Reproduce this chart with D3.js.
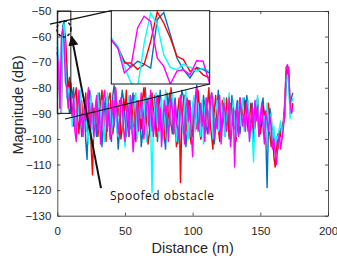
<!DOCTYPE html>
<html>
<head>
<meta charset="utf-8">
<script src="https://cdn.jsdelivr.net/npm/d3@7"></script>
<style>
  body { margin: 0; background: #fff; }
  svg { display: block; }
  .tick text { font-family: "Liberation Sans", Arial, sans-serif; font-size: 11.5px; fill: #262626; }
</style>
</head>
<body>
<svg id="chart" width="337" height="261"></svg>
<script>
'use strict';

// range bins, 1 m apart
var distance = d3.range(0, 175);

var blue = [
  -66, -72, -88, -74, -56, -54, -62, -80, -84, -90, -78,
  -84, -80, -93, -97, -86, -82, -91, -99, -94, -87,
  -101, -108, -85, -81, -90, -96, -88, -93, -99, -84,
  -82, -89, -103, -95, -86, -84, -92, -90, -98, -101,
  -83, -79, -88, -94, -104, -97, -86, -81, -85, -92,
  -99, -93, -87, -96, -85, -82, -100, -94, -89, -91,
  -86, -103, -98, -84, -80, -88, -95, -91, -87, -97,
  -94, -83, -85, -101, -92, -81, -89, -96, -99, -104,
  -90, -86, -82, -94, -98, -88, -84, -91, -102, -95,
  -87, -81, -83, -92, -103, -97, -89, -85, -93, -99,
  -91, -84, -79, -86, -96, -100, -93, -83, -88, -95,
  -98, -90, -85, -82, -89, -102, -95, -87, -81, -93,
  -97, -88, -84, -99, -92, -86, -100, -94, -83, -90,
  -96, -89, -85, -93, -98, -91, -87, -84, -95, -83,
  -88, -92, -97, -86, -101, -94, -85, -89, -99, -96,
  -87, -84, -93, -98, -119, -95, -88, -91, -100, -97,
  -102, -105, -98, -101, -96, -100, -94, -92, -80, -73,
  -76, -90, -84, -82
];

var red = [
  -64, -70, -82, -90, -62, -58, -60, -70, -82, -76, -84,
  -89, -95, -83, -80, -92, -98, -87, -85, -94, -90,
  -82, -97, -91, -86, -103, -114, -95, -88, -84, -99,
  -93, -86, -81, -90, -97, -101, -89, -84, -82, -92,
  -98, -94, -80, -87, -91, -85, -100, -96, -84, -89,
  -81, -93, -99, -88, -86, -95, -83, -101, -97, -85,
  -90, -96, -84, -80, -89, -93, -102, -98, -86, -82,
  -91, -87, -99, -94, -83, -88, -97, -92, -100, -85,
  -82, -90, -95, -80, -86, -98, -93, -103, -89, -84,
  -117, -94, -86, -83, -97, -91, -85, -99, -102, -88,
  -84, -92, -96, -81, -87, -100, -93, -85, -98, -90,
  -86, -80, -94, -99, -104, -89, -83, -91, -96, -101,
  -88, -85, -93, -97, -84, -90, -99, -86, -92, -95,
  -89, -101, -96, -87, -84, -92, -88, -94, -85, -91,
  -97, -93, -86, -89, -99, -95, -88, -84, -92, -98,
  -94, -87, -90, -96, -92, -86, -98, -103, -96, -107,
  -111, -101, -104, -97, -99, -95, -93, -86, -74, -72,
  -72, -88, -90, -86
];

var cyan = [
  -62, -68, -80, -90, -58, -55, -70, -84, -80, -88, -82,
  -95, -88, -84, -98, -92, -86, -81, -90, -99, -85,
  -88, -97, -102, -89, -83, -94, -100, -91, -86, -82,
  -96, -90, -85, -93, -101, -87, -82, -95, -89, -98,
  -92, -86, -81, -96, -99, -88, -84, -91, -97, -103,
  -94, -87, -83, -90, -98, -93, -85, -82, -100, -95,
  -86, -92, -89, -84, -97, -101, -90, -83, -96, -121,
  -93, -88, -82, -95, -99, -87, -84, -100, -92, -81,
  -89, -96, -93, -85, -82, -97, -88, -101, -94, -90,
  -84, -92, -98, -86, -81, -94, -100, -89, -96, -87,
  -83, -97, -91, -86, -93, -99, -85, -102, -88, -84,
  -90, -95, -87, -82, -100, -96, -89, -85, -97, -91,
  -86, -93, -84, -99, -94, -88, -82, -96, -91, -85,
  -93, -99, -90, -86, -95, -89, -84, -97, -92, -88,
  -85, -100, -94, -98, -109, -90, -87, -83, -96, -92,
  -89, -95, -91, -99, -86, -93, -97, -90, -101, -95,
  -104, -99, -100, -96, -93, -100, -94, -90, -78, -75,
  -77, -92, -86, -84
];

var magenta = [
  -66, -74, -88, -60, -57, -62, -78, -80, -88, -82, -86,
  -91, -83, -97, -101, -88, -81, -94, -90, -99, -87,
  -93, -85, -80, -96, -90, -86, -99, -94, -83, -97,
  -88, -102, -95, -84, -81, -91, -97, -86, -100, -92,
  -85, -95, -80, -89, -98, -93, -84, -87, -96, -101,
  -90, -86, -99, -83, -94, -105, -98, -91, -85, -97,
  -89, -82, -95, -100, -92, -87, -84, -96, -81, -90,
  -99, -94, -86, -83, -97, -88, -103, -95, -85, -91,
  -87, -101, -92, -84, -89, -98, -85, -93, -96, -100,
  -83, -90, -95, -102, -88, -84, -93, -87, -98, -107,
  -91, -85, -80, -97, -93, -86, -95, -89, -101, -84,
  -90, -98, -87, -82, -85, -100, -92, -96, -89, -83,
  -102, -94, -86, -90, -97, -92, -84, -103, -96, -88,
  -111, -93, -86, -99, -84, -89, -95, -90, -97, -86,
  -91, -101, -94, -88, -96, -85, -93, -87, -99, -92,
  -86, -95, -102, -89, -93, -97, -91, -95, -104, -100,
  -106, -110, -102, -98, -104, -100, -96, -90, -72, -71,
  -74, -86, -90, -88
];

// zoomed view of the first 10 m
var insetDistance = [0, 0.67, 1.33, 2, 2.67, 3.33, 4, 4.67, 5.33, 6, 6.67, 7.33, 8, 8.67, 9.33, 10];
var insetBlue = [-65.5, -70, -77.6, -80.9, -77.6, -79.1, -81.3, -54.9, -51, -63, -75.8, -82.2, -86.7, -80.9, -82.2, -84];
var insetRed = [-65.8, -70.4, -78.5, -78.5, -82, -79.4, -66.7, -50.7, -56.7, -64.9, -74.9, -76.7, -83.1, -81.3, -85, -86.7];
var insetCyan = [-64.9, -69.4, -80.4, -89.5, -92, -68, -51.3, -57.6, -74, -80.9, -82.2, -79.1, -80.9, -83.1, -81.3, -83.1];
var insetMagenta = [-65.8, -70.4, -84, -80.4, -59.4, -53, -55.8, -75.8, -80.4, -90, -83, -82.2, -85, -77.3, -77.6, -90];

var xTicks = [0, 50, 100, 150, 200];
var yTicks = [-130, -120, -110, -100, -90, -80, -70, -60, -50];

var series = [
  { values: blue, inset: insetBlue, color: '#0072BD' },
  { values: red, inset: insetRed, color: '#FF0000' },
  { values: cyan, inset: insetCyan, color: '#00FFFF' },
  { values: magenta, inset: insetMagenta, color: '#FF00FF' }
];

var svg = d3.select('#chart');
var axisColor = '#262626';

var x = d3.scaleLinear().domain([0, 200]).range([57.3, 328]);
var y = d3.scaleLinear().domain([-130, -50]).range([215.7, 11]);

// axes, MATLAB style: ticks inside, full box
function styleAxis(g) {
  g.select('.domain').attr('stroke', axisColor).attr('stroke-width', 0.8);
  g.selectAll('.tick line').attr('stroke', axisColor).attr('stroke-width', 0.8);
}

svg.append('g')
  .attr('transform', 'translate(0,' + y(-130) + ')')
  .call(d3.axisBottom(x).tickValues(xTicks).tickSizeInner(-3).tickSizeOuter(0).tickPadding(11))
  .call(styleAxis);

svg.append('g')
  .attr('transform', 'translate(' + x(0) + ',0)')
  .call(d3.axisLeft(y).tickValues(yTicks).tickSizeInner(-3).tickSizeOuter(0).tickPadding(6))
  .call(styleAxis);

svg.append('g')
  .attr('transform', 'translate(0,' + y(-50) + ')')
  .call(d3.axisTop(x).tickValues(xTicks).tickSizeInner(-3).tickSizeOuter(0).tickFormat(''))
  .call(styleAxis);

svg.append('g')
  .attr('transform', 'translate(' + x(200) + ',0)')
  .call(d3.axisRight(y).tickValues(yTicks).tickSizeInner(-3).tickSizeOuter(0).tickFormat(''))
  .call(styleAxis);

svg.append('text')
  .attr('x', (x(0) + x(200)) / 2)
  .attr('y', 253)
  .attr('text-anchor', 'middle')
  .style('font-family', '"Liberation Sans", Arial, sans-serif')
  .style('font-size', '14.5px')
  .style('fill', axisColor)
  .text('Distance (m)');

svg.append('text')
  .attr('transform', 'translate(23,' + 105 + ') rotate(-90)')
  .attr('text-anchor', 'middle')
  .style('font-family', '"Liberation Sans", Arial, sans-serif')
  .style('font-size', '14.5px')
  .style('fill', axisColor)
  .text('Magnitude (dB)');

// main traces
var line = d3.line()
  .x(function (d, i) { return x(distance[i]); })
  .y(function (d) { return y(d); });

svg.append('g').selectAll('path')
  .data(series)
  .enter().append('path')
  .attr('d', function (s) { return line(s.values); })
  .attr('fill', 'none')
  .attr('stroke', function (s) { return s.color; })
  .attr('stroke-width', 1.4)
  .attr('stroke-linejoin', 'round');

// zoom box and the lines that tie it to the inset
var ink = '#111';
svg.append('rect')
  .attr('x', x(0))
  .attr('y', y(-50))
  .attr('width', x(10) - x(0))
  .attr('height', y(-90) - y(-50))
  .attr('fill', 'none')
  .attr('stroke', ink)
  .attr('stroke-width', 1);

var xi = d3.scaleLinear().domain([0, 10]).range([111.3, 209.7]);
var yi = d3.scaleLinear().domain([-90, -50]).range([84, 10.7]);

svg.append('line')
  .attr('x1', x(-5.4)).attr('y1', y(-55.1))
  .attr('x2', xi(0)).attr('y2', yi(-50))
  .attr('stroke', ink).attr('stroke-width', 1.2);

svg.append('line')
  .attr('x1', x(5.7)).attr('y1', y(-92.2))
  .attr('x2', xi(10)).attr('y2', yi(-90))
  .attr('stroke', ink).attr('stroke-width', 1.2);

// inset
svg.append('defs').append('clipPath').attr('id', 'inset-clip')
  .append('rect')
  .attr('x', xi(0)).attr('y', yi(-50))
  .attr('width', xi(10) - xi(0)).attr('height', yi(-90) - yi(-50));

svg.append('rect')
  .attr('x', xi(0)).attr('y', yi(-50))
  .attr('width', xi(10) - xi(0)).attr('height', yi(-90) - yi(-50))
  .attr('fill', '#fff');

var insetLine = d3.line()
  .x(function (d, i) { return xi(insetDistance[i]); })
  .y(function (d) { return yi(d); });

svg.append('g').attr('clip-path', 'url(#inset-clip)')
  .selectAll('path')
  .data(series)
  .enter().append('path')
  .attr('d', function (s) { return insetLine(s.inset); })
  .attr('fill', 'none')
  .attr('stroke', function (s) { return s.color; })
  .attr('stroke-width', 1.4);

svg.append('rect')
  .attr('x', xi(0)).attr('y', yi(-50))
  .attr('width', xi(10) - xi(0)).attr('height', yi(-90) - yi(-50))
  .attr('fill', 'none')
  .attr('stroke', ink)
  .attr('stroke-width', 1);

// spoofed obstacle marker
svg.append('ellipse')
  .attr('cx', x(4.9)).attr('cy', y(-57))
  .attr('rx', 7).attr('ry', 8)
  .attr('fill', 'none')
  .attr('stroke', ink)
  .attr('stroke-width', 1.5)
  .attr('stroke-dasharray', '3,2');

svg.append('defs').append('marker')
  .attr('id', 'arrow')
  .attr('viewBox', '0 0 10 10')
  .attr('refX', 9).attr('refY', 5)
  .attr('markerWidth', 5).attr('markerHeight', 5)
  .attr('orient', 'auto')
  .append('path')
  .attr('d', 'M0,0 L10,5 L0,10 z')
  .attr('fill', ink);

svg.append('line')
  .attr('x1', x(32.3)).attr('y1', y(-119.2))
  .attr('x2', x(10.6)).attr('y2', y(-60))
  .attr('stroke', ink)
  .attr('stroke-width', 2)
  .attr('marker-end', 'url(#arrow)');

svg.append('text')
  .attr('x', 110)
  .attr('y', 200)
  .attr('textLength', 104)
  .style('font-family', '"Open Sans", Lato, sans-serif')
  .style('font-size', '12px')
  .style('fill', ink)
  .text('Spoofed obstacle');
</script>
</body>
</html>
